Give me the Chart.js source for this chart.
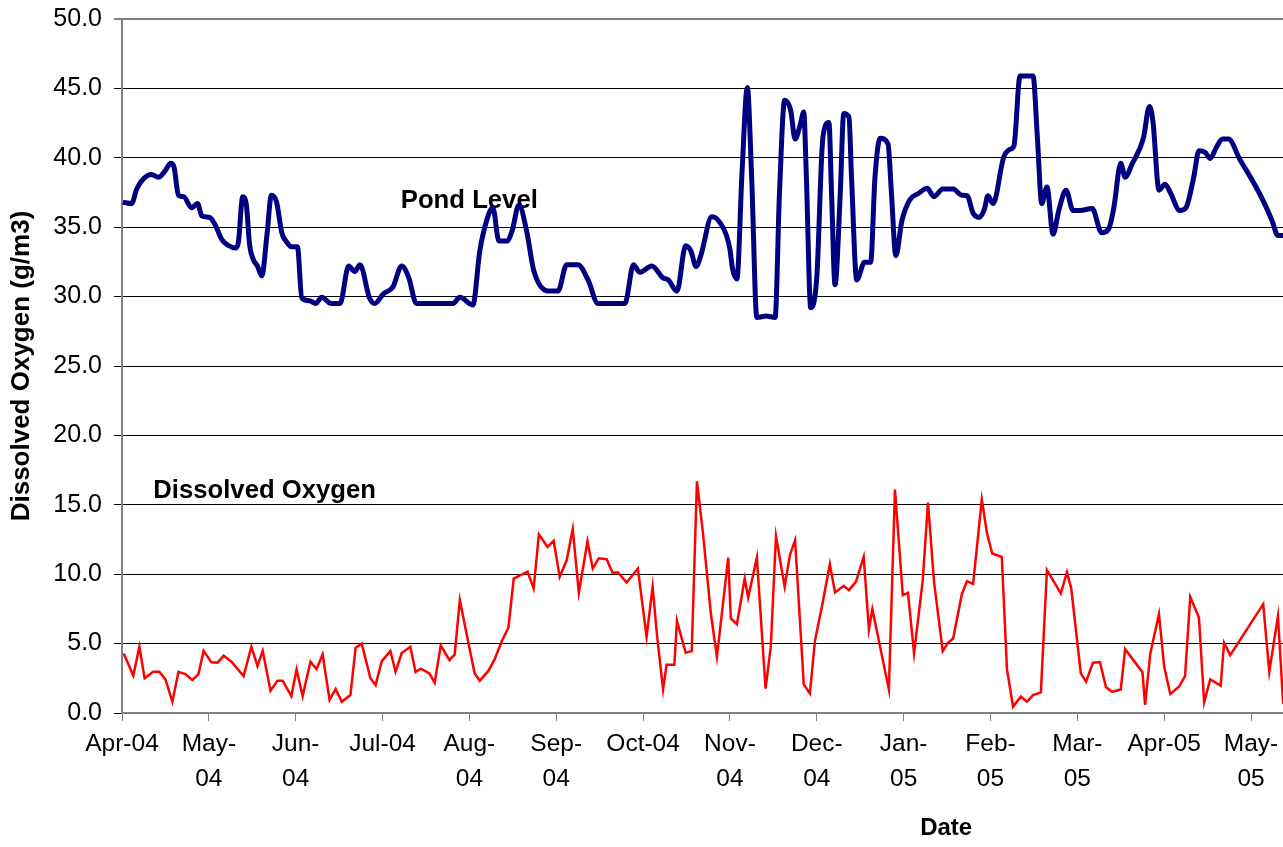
<!DOCTYPE html>
<html>
<head>
<meta charset="utf-8">
<script src="https://cdn.jsdelivr.net/npm/chart.js@4.4.1/dist/chart.umd.min.js"></script>
<style>
html,body{margin:0;padding:0;background:#fff;}
#wrap{position:relative;width:1283px;height:847px;}
</style>
</head>
<body>
<div id="wrap"><canvas id="c"></canvas></div>
<script>
// x positions are in months since Apr-04 (0 = Apr-04, 1 = May-04, ...)
const monthTicks = [0,1,2,3,4,5,6,7,8,9,10,11,12,13];
const xTickLabels = ["Apr-04",["May-","04"],["Jun-","04"],"Jul-04",["Aug-","04"],["Sep-","04"],"Oct-04",
  ["Nov-","04"],["Dec-","04"],["Jan-","05"],["Feb-","05"],["Mar-","05"],"Apr-05",["May-","05"]];
const yTicks = [0,5,10,15,20,25,30,35,40,45,50];

const pondX = [0.01,0.11,0.17,0.25,0.34,0.42,0.50,0.56,0.60,0.65,0.71,0.80,0.87,0.92,1.01,1.07,1.15,1.22,1.31,1.34,
  1.39,1.43,1.47,1.51,1.56,1.61,1.67,1.72,1.78,1.84,1.90,1.95,2.02,2.07,2.16,2.23,2.30,2.41,2.51,2.61,
  2.68,2.74,2.85,2.91,3.01,3.12,3.22,3.30,3.39,3.81,3.89,4.04,4.12,4.20,4.27,4.34,4.43,4.49,4.57,4.66,
  4.74,4.91,5.02,5.12,5.25,5.37,5.48,5.79,5.89,5.96,6.10,6.23,6.29,6.39,6.49,6.55,6.61,6.67,6.79,6.85,
  6.96,7.00,7.03,7.08,7.14,7.20,7.25,7.31,7.42,7.52,7.57,7.63,7.70,7.75,7.81,7.85,7.88,7.93,8.00,8.07,
  8.14,8.17,8.21,8.27,8.31,8.37,8.40,8.46,8.55,8.62,8.67,8.73,8.82,8.86,8.91,8.98,9.07,9.17,9.27,9.35,
  9.45,9.57,9.67,9.73,9.80,9.87,9.93,9.97,10.03,10.15,10.22,10.27,10.34,10.49,10.54,10.59,10.65,10.72,10.79,10.87,
  10.95,11.03,11.17,11.28,11.36,11.42,11.50,11.55,11.63,11.76,11.83,11.87,11.94,12.01,12.07,12.18,12.25,12.34,12.40,12.47,
  12.53,12.60,12.67,12.74,12.87,13.03,13.14,13.24,13.31,13.37];
const pondLevel = [36.8,36.7,37.75,38.5,38.8,38.6,39.1,39.6,39.3,37.3,37.2,36.4,36.7,35.8,35.7,35.2,34.1,33.7,33.5,33.9,
  37.2,36.7,33.7,32.7,32.2,31.5,34.5,37.3,36.8,34.6,33.9,33.6,33.6,29.9,29.7,29.5,29.95,29.5,29.5,32.2,
  31.8,32.3,29.9,29.5,30.2,30.7,32.2,31.4,29.5,29.5,29.95,29.4,33.3,35.5,36.4,34.0,34.0,34.7,36.6,34.7,
  31.9,30.4,30.4,32.3,32.3,31.15,29.5,29.5,32.3,31.75,32.2,31.35,31.2,30.4,33.67,33.3,32.16,33.07,35.76,35.6,
  34.4,33.4,32.0,31.27,39.07,45.06,38.6,28.5,28.6,28.5,37.4,44.15,43.4,41.35,42.4,43.3,38.6,29.2,31.4,41.46,
  42.54,37.4,30.86,37.4,43.19,42.95,38.6,31.2,32.47,32.47,38.6,41.4,41.0,37.4,32.95,35.47,36.96,37.43,37.8,37.2,
  37.75,37.75,37.3,37.27,36.0,35.7,36.3,37.27,36.7,40.0,40.6,40.86,45.9,45.9,41.46,36.7,37.9,34.5,36.3,37.67,
  36.2,36.2,36.35,34.6,34.86,36.4,39.6,38.6,39.55,41.4,43.7,42.66,37.67,38.1,37.5,36.2,36.4,38.6,40.5,40.4,
  39.95,40.74,41.35,41.35,39.9,38.2,36.9,35.5,34.4,34.4];

const doX = [0.02,0.13,0.20,0.26,0.36,0.43,0.50,0.58,0.65,0.73,0.81,0.88,0.94,1.03,1.10,1.17,1.26,1.40,1.49,1.56,
  1.62,1.71,1.79,1.85,1.95,2.01,2.08,2.17,2.24,2.31,2.39,2.46,2.53,2.63,2.69,2.76,2.86,2.92,2.99,3.09,
  3.15,3.22,3.32,3.38,3.44,3.54,3.60,3.67,3.77,3.83,3.89,3.99,4.06,4.12,4.22,4.29,4.37,4.45,4.51,4.59,
  4.67,4.74,4.80,4.90,4.97,5.04,5.12,5.19,5.26,5.36,5.42,5.49,5.58,5.65,5.71,5.81,5.94,6.04,6.11,6.16,
  6.23,6.27,6.36,6.39,6.49,6.56,6.62,6.69,6.78,6.85,6.98,7.01,7.08,7.17,7.21,7.31,7.41,7.47,7.53,7.63,
  7.69,7.75,7.85,7.92,7.98,8.07,8.15,8.21,8.31,8.37,8.45,8.54,8.60,8.64,8.83,8.90,8.99,9.05,9.12,9.22,
  9.28,9.35,9.45,9.51,9.57,9.67,9.73,9.80,9.90,9.96,10.02,10.13,10.19,10.26,10.35,10.42,10.49,10.58,10.65,10.81,
  10.88,10.93,11.04,11.10,11.18,11.26,11.33,11.40,11.50,11.55,11.75,11.78,11.84,11.94,12.00,12.07,12.17,12.24,12.30,12.40,
  12.46,12.53,12.65,12.69,12.76,13.14,13.21,13.31,13.37];
const dissolvedOxygen = [4.29,2.69,4.77,2.5,2.97,2.97,2.42,0.81,2.97,2.8,2.37,2.8,4.48,3.65,3.63,4.12,3.69,2.66,4.77,3.38,
  4.48,1.6,2.33,2.33,1.22,3.14,1.22,3.69,3.16,4.22,0.94,1.73,0.81,1.29,4.7,5.01,2.5,2.01,3.72,4.47,
  2.97,4.32,4.77,2.95,3.19,2.85,2.18,4.87,3.81,4.2,8.13,5.01,2.85,2.33,3.05,3.86,5.13,6.16,9.69,9.93,
  10.17,8.97,12.88,11.96,12.4,9.81,11.0,13.26,8.66,12.37,10.41,11.15,11.08,10.1,10.14,9.4,10.41,5.49,9.09,5.61,
  1.7,3.47,3.47,6.64,4.34,4.46,16.69,12.93,7.17,4.05,11.2,6.81,6.4,9.69,8.32,11.2,1.75,4.77,12.73,9.09,
  11.37,12.45,2.06,1.41,5.25,8.01,10.72,8.68,9.16,8.85,9.45,11.25,6.02,7.48,1.7,16.1,8.49,8.66,4.29,9.57,
  15.16,9.45,4.46,5.06,5.37,8.56,9.5,9.3,15.37,12.93,11.49,11.25,3.14,0.46,1.18,0.81,1.29,1.49,10.29,8.61,
  10.14,8.97,2.85,2.25,3.62,3.67,1.85,1.53,1.7,4.6,2.93,0.58,4.29,7.12,3.33,1.37,1.89,2.66,8.37,6.88,
  0.77,2.42,1.97,5.06,4.17,7.84,2.97,6.98,0.65];

const seriesLabels = [
  {text:"Pond Level", x:3.21, y:36.9},
  {text:"Dissolved Oxygen", x:0.36, y:15.97}
];
const xTitle = {text:"Date", x:9.49};

const FONT = "'Liberation Sans', Arial, Helvetica, sans-serif";

const labelPlugin = {
  id:'seriesLabels',
  beforeDatasetsDraw(chart){
    const {ctx, scales:{x,y}} = chart;
    ctx.save();
    ctx.font = "bold 25.7px " + FONT;
    ctx.fillStyle = "#000";
    ctx.textAlign = "left";
    ctx.textBaseline = "middle";
    seriesLabels.forEach(l => ctx.fillText(l.text, x.getPixelForValue(l.x), y.getPixelForValue(l.y)));
    ctx.restore();
  },
  afterDraw(chart){
    const {ctx, scales:{x}, chartArea} = chart;
    ctx.save();
    ctx.font = "bold 24px " + FONT;
    ctx.fillStyle = "#000";
    ctx.textAlign = "center";
    ctx.textBaseline = "middle";
    ctx.fillText(xTitle.text, x.getPixelForValue(xTitle.x), chartArea.bottom + 115);
    ctx.restore();
  }
};

new Chart(document.getElementById('c'), {
  type:'line',
  data:{
    datasets:[
      {label:'Pond Level', data: pondX.map((v,i)=>({x:v, y:pondLevel[i]})),
       borderColor:'#000080', backgroundColor:'#000080', borderWidth:5, pointRadius:0,
       cubicInterpolationMode:'monotone', tension:0.4, fill:false},
      {label:'Dissolved Oxygen', data: doX.map((v,i)=>({x:v, y:dissolvedOxygen[i]})),
       borderColor:'#FF0000', backgroundColor:'#FF0000', borderWidth:2.5, pointRadius:0, tension:0, fill:false}
    ]
  },
  options:{
    responsive:true, maintainAspectRatio:false, animation:false,
    devicePixelRatio:1,
    layout:{padding:{top:19, right:0, left:0, bottom:0}},
    plugins:{legend:{display:false}, tooltip:{enabled:false}},
    scales:{
      x:{
        type:'linear', min:0, max:13.368,
        afterBuildTicks(s){ s.ticks = monthTicks.map(v=>({value:v})); },
        afterFit(s){ s.height = 134; s.paddingLeft = 0; s.paddingRight = 0; },
        ticks:{autoSkip:false, maxRotation:0, minRotation:0, padding:5, color:'#000',
          font:{family:FONT, size:24.5, lineHeight:1.45},
          callback:(v,i)=>xTickLabels[i]},
        grid:{drawOnChartArea:false, drawTicks:true, tickLength:8, color:'#808080', lineWidth:1},
        border:{display:true, color:'#808080', width:2}
      },
      y:{
        min:0, max:50,
        afterBuildTicks(s){ s.ticks = yTicks.map(v=>({value:v})); },
        afterFit(s){ s.width = 122; s.paddingTop = 0; s.paddingBottom = 0; },
        ticks:{padding:12, color:'#000', font:{family:FONT, size:25}, callback:v=>v.toFixed(1)},
        grid:{
          color:(c)=> (c.tick && c.tick.value===50) ? '#808080' : '#000000',
          lineWidth:(c)=> (c.tick && c.tick.value===50) ? 2 : 1,
          tickLength:8, drawTicks:true},
        border:{display:true, color:'#808080', width:2},
        title:{display:true, text:'Dissolved Oxygen (g/m3)', color:'#000',
          font:{family:FONT, size:26, weight:'bold'}, padding:{top:6.5, bottom:0}}
      }
    }
  },
  plugins:[labelPlugin]
});
</script>
</body>
</html>
